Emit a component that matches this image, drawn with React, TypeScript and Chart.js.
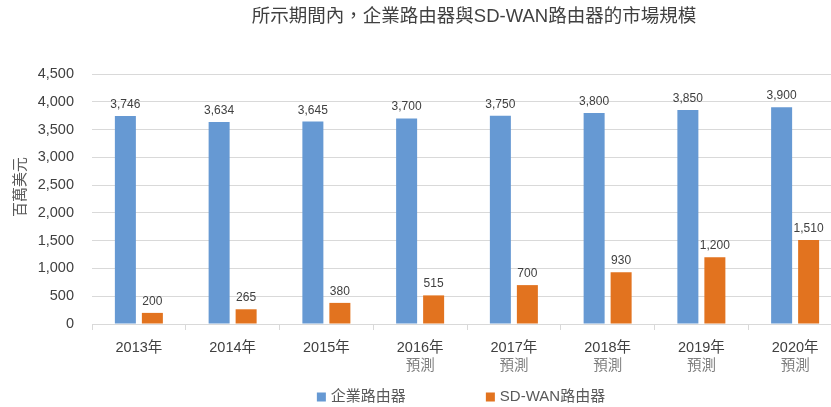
import React, { useEffect, useRef } from "react";
import { Chart, registerables } from "chart.js";

Chart.register(...registerables);

const TITLE = "所示期間內，企業路由器與SD-WAN路由器的市場規模";
const Y_TITLE = "百萬美元";
const categories = ["2013年", "2014年", "2015年", "2016年", "2017年", "2018年", "2019年", "2020年"];
const subLabels = ["", "", "", "預測", "預測", "預測", "預測", "預測"];
const enterpriseName = "企業路由器";
const sdwanName = "SD-WAN路由器";
const enterpriseValues = [3746, 3634, 3645, 3700, 3750, 3800, 3850, 3900];
const sdwanValues = [200, 265, 380, 515, 700, 930, 1200, 1510];
const yMin = 0;
const yMax = 4500;
const yStep = 500;

const BLUE = "#6699D3";
const ORANGE = "#E2731F";
const FONT = "'Liberation Sans', Arial, 'Noto Sans CJK TC', sans-serif";

const W = 842;
const H = 407;

const fmt = (v: number) => v.toLocaleString("en-US");

const overlayPlugin = {
  id: "overlay",
  afterDraw(chart: any) {
    const { ctx, chartArea } = chart;
    ctx.save();
    // title
    ctx.font = `18.5px ${FONT}`;
    ctx.fillStyle = "#404040";
    ctx.textAlign = "center";
    ctx.textBaseline = "middle";
    ctx.fillText(TITLE, (chartArea.left + chartArea.right) / 2 + 7, 17);

    // y axis title
    ctx.save();
    ctx.font = `15px ${FONT}`;
    ctx.fillStyle = "#595959";
    ctx.translate(21, (chartArea.top + chartArea.bottom) / 2 - 12);
    ctx.rotate(-Math.PI / 2);
    ctx.textAlign = "center";
    ctx.textBaseline = "middle";
    ctx.fillText(Y_TITLE, 0, 0);
    ctx.restore();

    // data labels
    ctx.font = `12px ${FONT}`;
    ctx.fillStyle = "#404040";
    ctx.textAlign = "center";
    ctx.textBaseline = "alphabetic";
    chart.data.datasets.forEach((ds: any, i: number) => {
      const meta = chart.getDatasetMeta(i);
      meta.data.forEach((el: any, j: number) => {
        ctx.fillText(fmt(ds.data[j]), el.x, el.y - 8);
      });
    });

    // sub labels under x ticks
    const xs = chart.scales.x;
    ctx.font = `14.5px ${FONT}`;
    ctx.fillStyle = "#7F7F7F";
    ctx.textAlign = "center";
    ctx.textBaseline = "middle";
    subLabels.forEach((s, i) => {
      if (!s) return;
      ctx.fillText(s, xs.getPixelForValue(i), 366);
    });

    // legend
    ctx.font = `15px ${FONT}`;
    const items = [
      { name: enterpriseName, color: BLUE },
      { name: sdwanName, color: ORANGE },
    ];
    const box = 9;
    const gap = 5;
    const itemGap = 80;
    const widths = items.map((it) => box + gap + ctx.measureText(it.name).width);
    const total = widths.reduce((a, b) => a + b, 0) + itemGap * (items.length - 1);
    let x = (chartArea.left + chartArea.right) / 2 - 6 - total / 2;
    const ly = 397;
    items.forEach((it, i) => {
      ctx.fillStyle = it.color;
      ctx.fillRect(x, ly - box / 2, box, box);
      ctx.fillStyle = "#595959";
      ctx.textAlign = "left";
      ctx.textBaseline = "middle";
      ctx.fillText(it.name, x + box + gap, ly);
      x += widths[i] + itemGap;
    });
    ctx.restore();
  },
};

export default function App() {
  const ref = useRef<HTMLCanvasElement>(null);
  useEffect(() => {
    if (!ref.current) return;
    const chart = new Chart(ref.current, {
      type: "bar",
      data: {
        labels: categories.map((c) => [c, " "]),
        datasets: [
          {
            label: enterpriseName,
            data: enterpriseValues,
            backgroundColor: BLUE,
            barPercentage: 0.778,
            categoryPercentage: 0.576,
          },
          {
            label: sdwanName,
            data: sdwanValues,
            backgroundColor: ORANGE,
            barPercentage: 0.778,
            categoryPercentage: 0.576,
          },
        ],
      },
      options: {
        responsive: false,
        animation: false,
        devicePixelRatio: 1,
        locale: "en-US",
        layout: { padding: { top: 74, bottom: 30, left: 0, right: 0 } },
        plugins: {
          legend: { display: false },
          title: { display: false },
          tooltip: { enabled: false },
        },
        scales: {
          x: {
            offset: true,
            grid: {
              offset: true,
              drawOnChartArea: false,
              drawTicks: true,
              tickLength: 6,
              color: "#D9D9D9",
            },
            border: { display: true, color: "#D9D9D9" },
            ticks: {
              color: "#404040",
              font: { family: FONT, size: 14.5, lineHeight: 1.2 },
              padding: 9,
              maxRotation: 0,
              autoSkip: false,
            },
            afterFit: (scale: any) => {
              scale.height = H - 30 - 74 - 250;
            },
          },
          y: {
            min: yMin,
            max: yMax,
            ticks: {
              stepSize: yStep,
              color: "#404040",
              font: { family: FONT, size: 14.5 },
              padding: 18,
            },
            grid: { color: "#D9D9D9", drawTicks: false },
            border: { display: false },
            title: { display: false },
            afterFit: (scale: any) => {
              scale.width = 92;
            },
          },
        },
      },
      plugins: [overlayPlugin],
    });
    return () => chart.destroy();
  }, []);
  return (
    <div
      style={{
        position: "absolute",
        left: 0,
        top: 0,
        width: 831,
        height: 407,
        overflow: "hidden",
        background: "#fff",
      }}
    >
      <canvas ref={ref} width={W} height={H} style={{ display: "block", width: W, height: H }} />
    </div>
  );
}
